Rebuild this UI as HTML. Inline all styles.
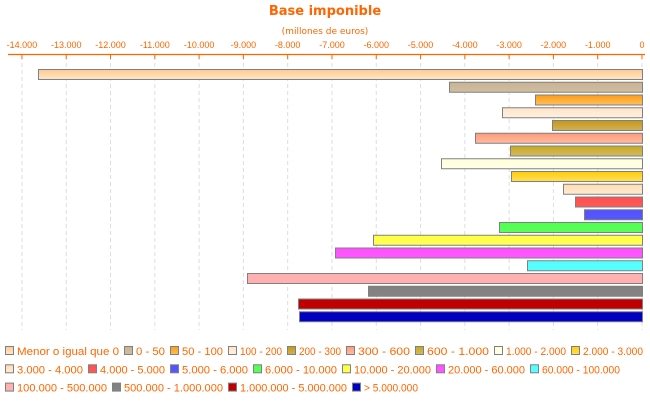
<!DOCTYPE html>
<html><head><meta charset="utf-8"><style>
body{margin:0;background:#fff;width:650px;height:400px;overflow:hidden}
svg text{font-family:"Liberation Sans","DejaVu Sans",sans-serif;fill:#ff6600}
</style></head><body>
<svg width="650" height="400" xmlns="http://www.w3.org/2000/svg">
<defs id="d"></defs>
<text x="325" y="15" text-anchor="middle" font-size="13" font-weight="bold" style="font-family:'DejaVu Sans',sans-serif">Base imponible</text>
<text x="325" y="34" text-anchor="middle" font-size="9" style="font-family:'DejaVu Sans',sans-serif">(millones de euros)</text>
<g id="grid"></g>
<line x1="8" y1="54.5" x2="645" y2="54.5" stroke="#ff6600" stroke-width="1.3"/>
<g id="bars"></g>
<g id="leg"></g>
</svg>
<script>
const NS="http://www.w3.org/2000/svg";
function el(t,a,p){const e=document.createElementNS(NS,t);for(const k in a)e.setAttribute(k,a[k]);p.appendChild(e);return e;}
const g=document.getElementById('grid');
for(let i=0;i<=14;i++){const x=642-i*44.29;
 el('line',{x1:x,y1:56,x2:x,y2:330,stroke:'#ddd','stroke-dasharray':'4,3'},g);
 el('line',{x1:x,y1:54,x2:x,y2:59,stroke:'#ff6600'},g);
 const t=el('text',{x:x,y:48,'text-anchor':'middle','font-size':'9'},g);
 t.textContent=i==0?'0':'-'+i+'.000';}
const data=[
['Menor o igual que 0',38,'#ffc890','#ffe8cc'],
['0 - 50',449,'#c8b494','#d0bca0'],
['50 - 100',535,'#ff9a10','#ffc060'],
['100 - 200',502,'#ffe4c8','#fff0e0'],
['200 - 300',552,'#c89810','#d0b060'],
['300 - 600',475,'#ff9a78','#ffbca0'],
['600 - 1.000',510,'#c8a820','#d0bc60'],
['1.000 - 2.000',441,'#ffffd8','#ffffe8'],
['2.000 - 3.000',511,'#ffcc00','#ffe060'],
['3.000 - 4.000',563,'#ffdcb0','#ffecd4'],
['4.000 - 5.000',575,'#ff5050','#ff5858'],
['5.000 - 6.000',584,'#5050ff','#5858ff'],
['6.000 - 10.000',499,'#50ff50','#58ff58'],
['10.000 - 20.000',373,'#ffff40','#ffff58'],
['20.000 - 60.000',335,'#ff50ff','#ff58ff'],
['60.000 - 100.000',527,'#50ffff','#58ffff'],
['100.000 - 500.000',247,'#ffb0b0','#ffb0b0'],
['500.000 - 1.000.000',368,'#808080','#848484'],
['1.000.000 - 5.000.000',298,'#c00000','#c00000'],
['> 5.000.000',299,'#0000c0','#0000c0']];
const d=document.getElementById('d'),b=document.getElementById('bars'),L=document.getElementById('leg');
data.forEach((r,i)=>{
 const lg=el('linearGradient',{id:'g'+i,x1:0,y1:0,x2:0,y2:1},d);
 el('stop',{offset:0,'stop-color':r[2]},lg);el('stop',{offset:1,'stop-color':r[3]},lg);
 const y=69.5+i*12.75;
 el('rect',{x:r[1]+0.5,y:y,width:642-r[1],height:10,fill:'url(#g'+i+')',stroke:'#808080','stroke-width':1},b);
});
const pos=[[5,124,170,228,287,346,415,494,571,643],[5,88,170,253,342,436,530,620],[5,112,228,352,418]];
let k=0;
pos.forEach((row,ri)=>{const y=346+ri*18.3;
 for(let j=0;j<row.length-1;j++){const x=row[j];const i=k++;const r=data[i];
  const last=j==row.length-2;
  const w=row[j+1]-x-12-(last?0:5);
  el('rect',{x:x+0.5,y:y+0.5,width:8,height:8,fill:'url(#g'+i+')',stroke:'#808080'},L);
  const t=el('text',{x:x+12,y:y+9,'font-size':'11',textLength:w,lengthAdjust:'spacingAndGlyphs'},L);t.textContent=r[0];
 }
});
</script>
</body></html>
